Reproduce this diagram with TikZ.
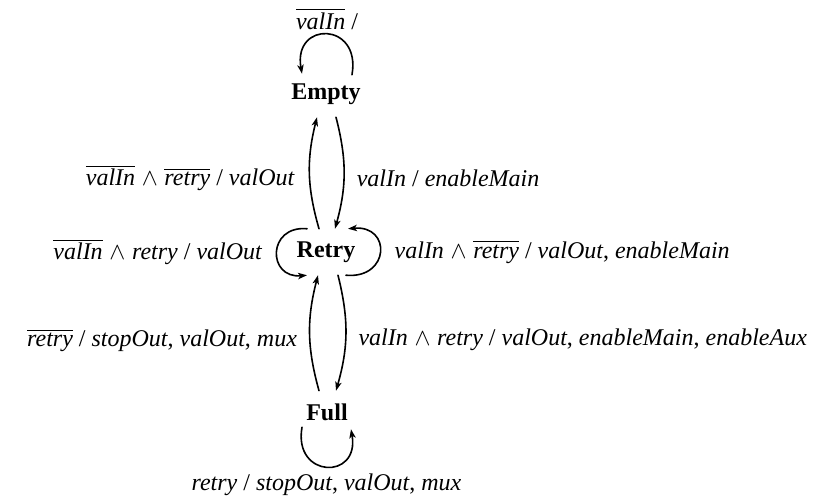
\documentclass[tikz,border=0pt]{standalone}
\usepackage{fontspec}
\setmainfont{Liberation Serif}[
  BoldFont = {Liberation Serif Bold},
  ItalicFont = {Liberation Serif Italic}]
\usetikzlibrary{arrows.meta}
\newcommand{\sgn}[1]{\textit{#1}}
\newcommand{\nsgn}[1]{$\overline{\textit{#1}}$}
\newcommand{\andop}{$\;\wedge\;$}

\begin{document}
\begin{tikzpicture}[
  x=0.5pt, y=0.5pt,
  line width=0.8pt, line cap=round,
  >={Stealth[length=4.5pt, width=3.2pt, inset=1.2pt]},
  state/.style = {font=\fontsize{12}{14}\selectfont\bfseries,
                  inner xsep=2pt, inner ysep=6pt, anchor=center},
  edge/.style  = {->, draw=black},
  lbl/.style   = {font=\fontsize{12}{14}\selectfont, inner sep=2pt}
]
\useasboundingbox (0,0) rectangle (821,-501);

\node[state] (empty) at (326,-94)  {Empty};
\node[state] (retry) at (326,-252) {Retry};
\node[state] (full)  at (327,-412) {Full};

% Empty <-> Retry
\draw[edge] ([xshift=-3.5pt]retry.north) to[bend left=15]
  node[lbl, left=5pt, yshift=-2.5pt] {\nsgn{valIn}\andop\nsgn{retry} / \sgn{valOut}} ([xshift=-4.5pt]empty.south);
\draw[edge] ([xshift=5pt]empty.south) to[bend left=15]
  node[lbl, right=4pt, yshift=-2.5pt] {\sgn{valIn} / \sgn{enableMain}} ([xshift=4.5pt]retry.north);

% Retry <-> Full
\draw[edge] ([xshift=-4pt]full.north) to[bend left=15]
  node[lbl, left=4pt, yshift=-3.5pt] {\nsgn{retry} / \sgn{stopOut}, \sgn{valOut}, \sgn{mux}} ([xshift=-4pt]retry.south);
\draw[edge] ([xshift=6pt]retry.south) to[bend left=15]
  node[lbl, right=4pt, yshift=-3.5pt] {\sgn{valIn}\andop\sgn{retry} / \sgn{valOut}, \sgn{enableMain}, \sgn{enableAux}} ([xshift=4.5pt]full.north);

% self loops
\draw[edge] ([xshift=13pt,yshift=-2pt]empty.north) to[out=80, in=100, distance=27pt]
  node[lbl, above=0pt] {\nsgn{valIn} /} ([xshift=-12pt,yshift=-1.5pt]empty.north);
\draw[edge] ([xshift=-9.5pt]retry.north) to[out=175, in=185, distance=20pt]
  node[lbl, left=5pt] {\nsgn{valIn}\andop\sgn{retry} / \sgn{valOut}} ([xshift=-9.5pt]retry.south);
\draw[edge] ([xshift=10pt]retry.south) to[out=-5, in=5, distance=22pt]
  node[lbl, right=5pt] {\sgn{valIn}\andop\nsgn{retry} / \sgn{valOut}, \sgn{enableMain}} ([xshift=11pt]retry.north);
\draw[edge] ([xshift=-12.5pt,yshift=3pt]full.south) to[out=-100, in=-80, distance=26pt]
  node[lbl, below=1pt] {\sgn{retry} / \sgn{stopOut}, \sgn{valOut}, \sgn{mux}} ([xshift=12pt,yshift=2pt]full.south);

\end{tikzpicture}
\end{document}
